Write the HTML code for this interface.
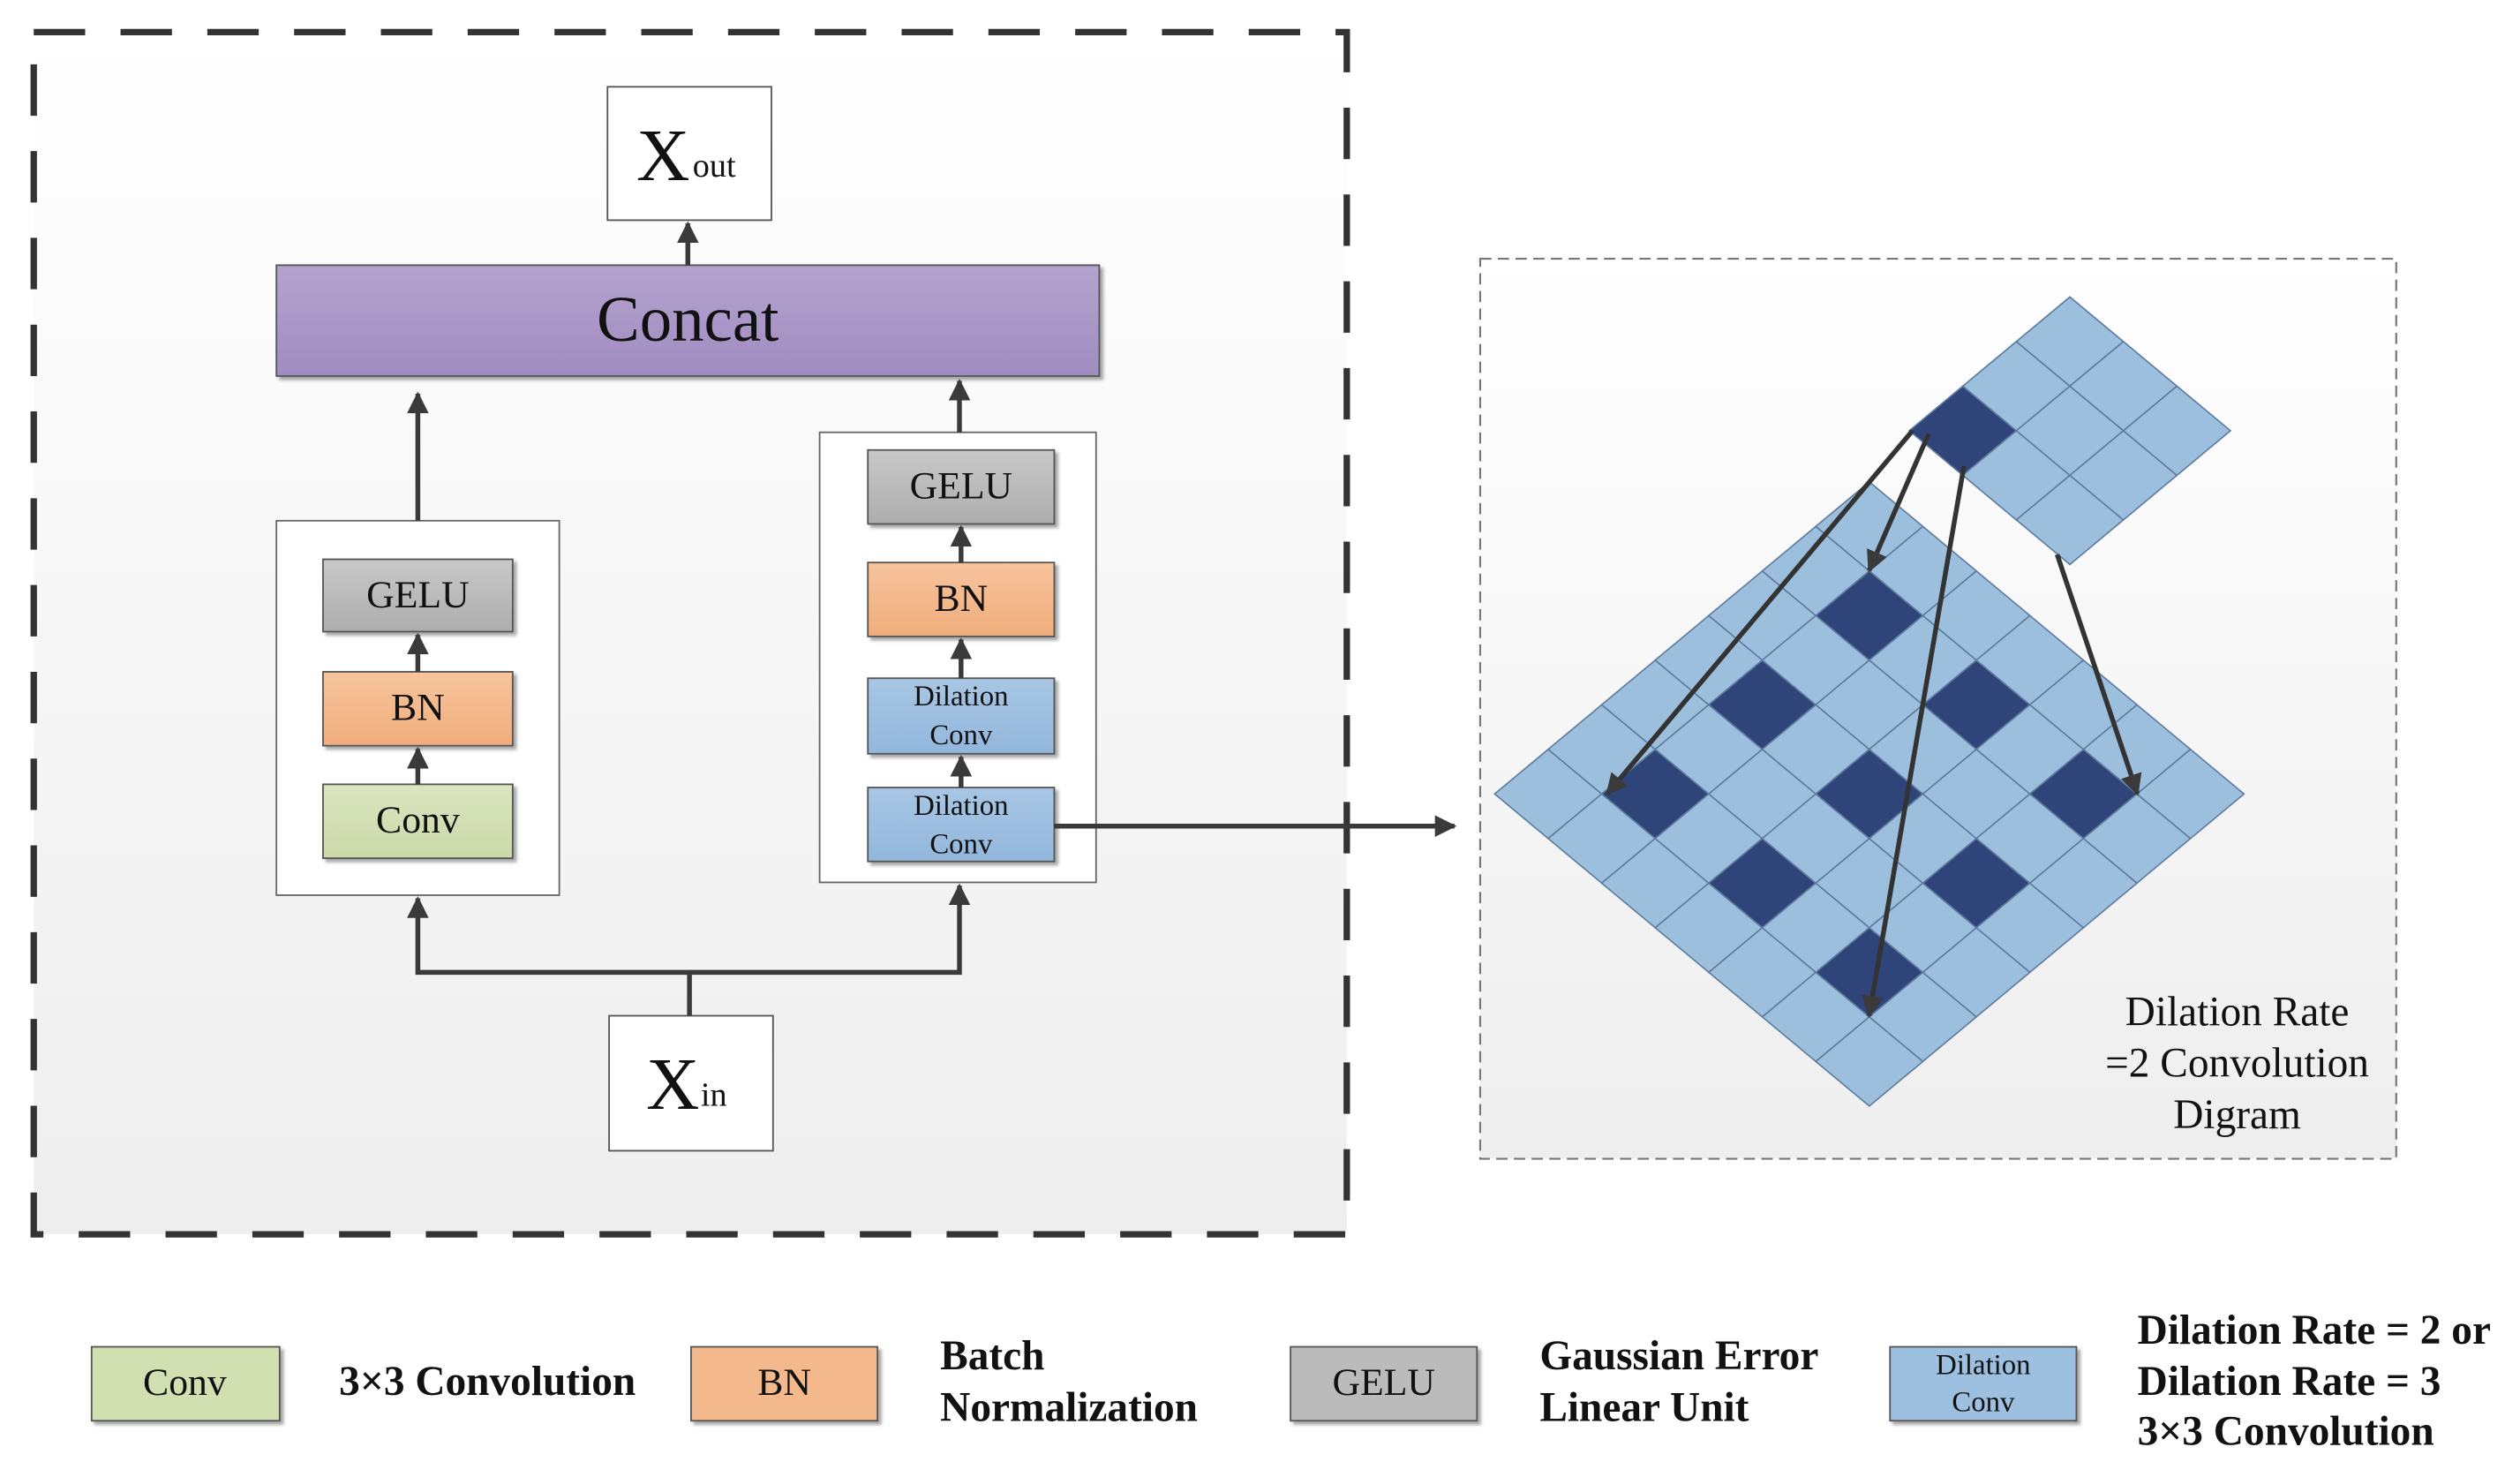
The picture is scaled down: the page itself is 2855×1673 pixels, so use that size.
<!DOCTYPE html>
<html><head><meta charset="utf-8"><style>
html,body{margin:0;padding:0;background:#fff}
svg{display:block}
text{font-family:"Liberation Serif",serif;fill:#111}
</style></head><body>
<svg id="main" width="2855" height="1673" viewBox="0 0 1568 919" preserveAspectRatio="none" xmlns="http://www.w3.org/2000/svg">
<defs>
<linearGradient id="bg" x1="0" y1="0" x2="0" y2="1"><stop offset="0" stop-color="#ffffff"/><stop offset="1" stop-color="#eeeeee"/></linearGradient>
<linearGradient id="gP" x1="0" y1="0" x2="0" y2="1"><stop offset="0" stop-color="#b4a3cf"/><stop offset="1" stop-color="#a08cc0"/></linearGradient>
<linearGradient id="gG" x1="0" y1="0" x2="0" y2="1"><stop offset="0" stop-color="#c8c8c8"/><stop offset="1" stop-color="#adadad"/></linearGradient>
<linearGradient id="gO" x1="0" y1="0" x2="0" y2="1"><stop offset="0" stop-color="#f7c49c"/><stop offset="1" stop-color="#f0ad7c"/></linearGradient>
<linearGradient id="gC" x1="0" y1="0" x2="0" y2="1"><stop offset="0" stop-color="#dbe5bf"/><stop offset="1" stop-color="#cbd9a8"/></linearGradient>
<linearGradient id="gB" x1="0" y1="0" x2="0" y2="1"><stop offset="0" stop-color="#a8c6e4"/><stop offset="1" stop-color="#92b7dc"/></linearGradient>
<marker id="ah" viewBox="0 0 10 10" refX="9" refY="5" markerWidth="4.5" markerHeight="4.5" orient="auto"><path d="M0,0 L10,5 L0,10 z" fill="#3a3a3a"/></marker>
<filter id="sh" x="-10%" y="-10%" width="130%" height="130%"><feDropShadow dx="2" dy="2" stdDeviation="1" flood-color="#000" flood-opacity="0.35"/></filter>
</defs>
<rect x="21" y="20" width="817" height="748" fill="url(#bg)"/>
<rect x="21" y="20" width="817" height="748" fill="none" stroke="#333" stroke-width="4" stroke-dasharray="32,22"/>
<rect x="921" y="161" width="570" height="560" fill="url(#bg)" stroke="#777" stroke-width="1.2" stroke-dasharray="7,4"/>

<rect x="378" y="54" width="102" height="83" fill="#fff" stroke="#555"/>
<text x="396" y="112" font-size="46">X</text><text x="431" y="110" font-size="21">out</text>
<rect x="172" y="165" width="512" height="69" fill="url(#gP)" stroke="#555" filter="url(#sh)"/>
<text x="428" y="212" font-size="40" text-anchor="middle">Concat</text>
<rect x="172" y="324" width="176" height="233" fill="#fff" stroke="#666"/>
<rect x="510" y="269" width="172" height="280" fill="#fff" stroke="#666"/>
<rect x="379" y="632" width="102" height="84" fill="#fff" stroke="#555"/>
<text x="402" y="690" font-size="46">X</text><text x="436" y="688" font-size="21">in</text>

<g stroke="#555" filter="url(#sh)">
<rect x="201" y="348" width="118" height="45" fill="url(#gG)"/>
<rect x="201" y="418" width="118" height="46" fill="url(#gO)"/>
<rect x="201" y="488" width="118" height="46" fill="url(#gC)"/>
<rect x="540" y="280" width="116" height="46" fill="url(#gG)"/>
<rect x="540" y="350" width="116" height="46" fill="url(#gO)"/>
<rect x="540" y="422" width="116" height="47" fill="url(#gB)"/>
<rect x="540" y="490" width="116" height="46" fill="url(#gB)"/>
</g>
<g font-size="24" text-anchor="middle">
<text x="260" y="378">GELU</text><text x="260" y="448">BN</text><text x="260" y="518">Conv</text>
<text x="598" y="310">GELU</text><text x="598" y="380">BN</text>
</g>
<g font-size="18" text-anchor="middle">
<text x="598" y="439">Dilation</text><text x="598" y="463">Conv</text>
<text x="598" y="507">Dilation</text><text x="598" y="531">Conv</text>
</g>

<g stroke="#3a3a3a" stroke-width="3" fill="none" marker-end="url(#ah)">
<line x1="428" y1="165" x2="428" y2="139"/>
<line x1="260" y1="324" x2="260" y2="245"/>
<line x1="597" y1="269" x2="597" y2="237"/>
<line x1="260" y1="418" x2="260" y2="395"/>
<line x1="260" y1="488" x2="260" y2="466"/>
<line x1="598" y1="350" x2="598" y2="328"/>
<line x1="598" y1="422" x2="598" y2="398"/>
<line x1="598" y1="490" x2="598" y2="471"/>
<polyline points="429,632 429,605 260,605 260,559"/>
<polyline points="429,605 597,605 597,551"/>
<line x1="656" y1="514" x2="905" y2="514"/>
</g>

<g id="grids"></g>

<text x="1392" y="638" font-size="26" text-anchor="middle">Dilation Rate</text>
<text x="1392" y="670" font-size="26" text-anchor="middle">=2 Convolution</text>
<text x="1392" y="702" font-size="26" text-anchor="middle">Digram</text>

<g stroke="#555" filter="url(#sh)">
<rect x="57" y="838" width="117" height="46" fill="#d2dfb1"/>
<rect x="430" y="838" width="116" height="46" fill="#f3b98c"/>
<rect x="803" y="838" width="116" height="46" fill="#bbbbbb"/>
<rect x="1176" y="838" width="116" height="46" fill="#9dbfe0"/>
</g>
<text x="115" y="868" font-size="24" text-anchor="middle">Conv</text>
<text x="488" y="868" font-size="24" text-anchor="middle">BN</text>
<text x="861" y="868" font-size="24" text-anchor="middle">GELU</text>
<text x="1234" y="855" font-size="18" text-anchor="middle">Dilation</text>
<text x="1234" y="878" font-size="18" text-anchor="middle">Conv</text>
<g font-weight="bold" font-size="26">
<text x="211" y="868">3×3 Convolution</text>
<text x="585" y="852">Batch</text>
<text x="585" y="884">Normalization</text>
<text x="958" y="852">Gaussian Error</text>
<text x="958" y="884">Linear Unit</text>
<text x="1330" y="836">Dilation Rate = 2 or</text>
<text x="1330" y="868">Dilation Rate = 3</text>
<text x="1330" y="899">3×3 Convolution</text>
</g>
</svg>
<script>
(function(){
var ns="http://www.w3.org/2000/svg",host=document.getElementById("grids");
function grid(tx,ty,n,darkFn){
 var g=document.createElementNS(ns,"g");
 g.setAttribute("transform","translate("+tx+","+ty+") scale(1,0.833) rotate(-45)");
 var s=47.1;
 for(var a=0;a<n;a++)for(var b=0;b<n;b++){
  var r=document.createElementNS(ns,"rect");
  r.setAttribute("x",a*s);r.setAttribute("y",b*s);r.setAttribute("width",s);r.setAttribute("height",s);
  r.setAttribute("fill",darkFn(a,b)?"#2f4478":"#9dbfde");
  r.setAttribute("stroke","#5f7c9e");r.setAttribute("stroke-width","1");
  g.appendChild(r);
 }
 host.appendChild(g);
}
grid(930,494,7,function(a,b){return a%2==1&&b%2==1;});
grid(1188,268,3,function(a,b){return a==0&&b==0;});
var arr=[[1190,268,1000,494],[1200,270,1163,355],[1222,290,1163,632],[1280,345,1330,494]];
arr.forEach(function(p){
 var l=document.createElementNS(ns,"line");
 l.setAttribute("x1",p[0]);l.setAttribute("y1",p[1]);l.setAttribute("x2",p[2]);l.setAttribute("y2",p[3]);
 l.setAttribute("stroke","#333");l.setAttribute("stroke-width","3");l.setAttribute("marker-end","url(#ah)");
 host.appendChild(l);
});
})();
</script>
</body></html>
